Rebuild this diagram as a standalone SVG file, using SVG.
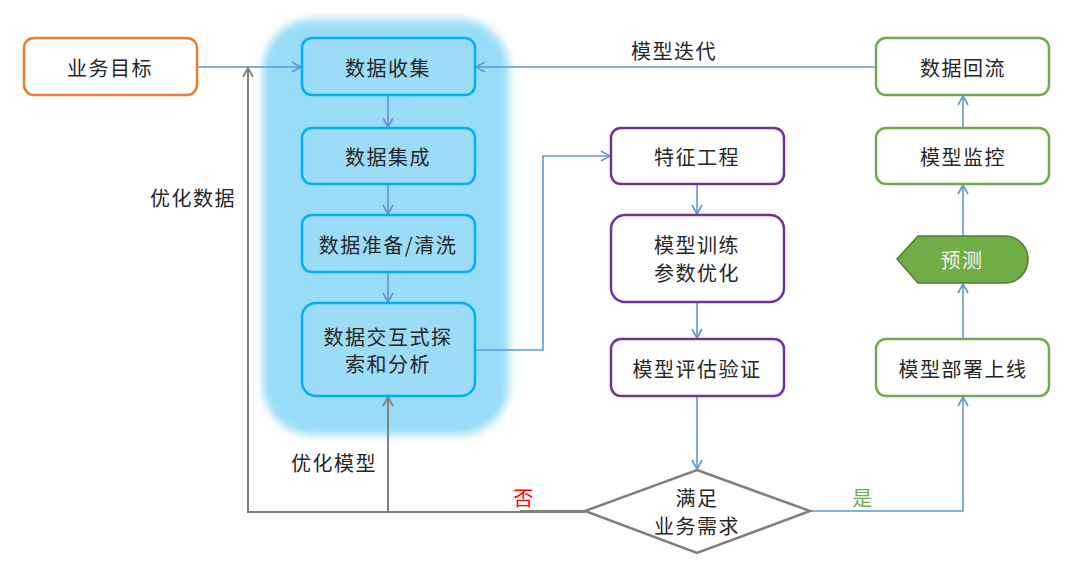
<svg xmlns="http://www.w3.org/2000/svg" width="1080" height="568" viewBox="0 0 1080 568">
<style>
text{font-family:"Noto Sans CJK SC","Liberation Sans",sans-serif;font-size:20px;fill:#262626;text-anchor:middle;dominant-baseline:central;letter-spacing:1.5px}
.blue{fill:#9CDCF7;stroke:#00B0F0;stroke-width:2.5}
.purple{fill:#fff;stroke:#7030A0;stroke-width:2.5}
.green{fill:#fff;stroke:#70AD47;stroke-width:2.5}
.orange{fill:#fff;stroke:#ED7D31;stroke-width:2.5}
.c{fill:none;stroke:#5B9BD5;stroke-width:1.6}
.ci{fill:none;stroke:#6A8FD0;stroke-width:1.6}
.g{fill:none;stroke:#7F7F7F;stroke-width:2}
</style>
<defs>
<filter id="blur" x="-10%" y="-10%" width="120%" height="120%"><feGaussianBlur stdDeviation="4"/></filter>
<marker id="ab" markerWidth="12" markerHeight="12" refX="10" refY="6" orient="auto" markerUnits="userSpaceOnUse"><path d="M1,1 L10,6 L1,11" fill="none" stroke="#5B9BD5" stroke-width="1.6"/></marker>
<marker id="ai" markerWidth="12" markerHeight="12" refX="10" refY="6" orient="auto" markerUnits="userSpaceOnUse"><path d="M1,1 L10,6 L1,11" fill="none" stroke="#6A8FD0" stroke-width="1.6"/></marker>
<marker id="ag" markerWidth="12" markerHeight="12" refX="10" refY="6" orient="auto" markerUnits="userSpaceOnUse"><path d="M1,1 L10,6 L1,11" fill="none" stroke="#7F7F7F" stroke-width="1.8"/></marker>
</defs>
<rect x="263" y="19" width="246" height="416" rx="50" fill="#99DCF8" filter="url(#blur)"/>
<g id="connectors">
<path class="c" d="M197,67 H301" marker-end="url(#ab)"/>
<path class="c" d="M876,67 H476" marker-end="url(#ab)"/>
<path class="ci" d="M388,95 V127" marker-end="url(#ai)"/>
<path class="ci" d="M388,184 V214" marker-end="url(#ai)"/>
<path class="ci" d="M388,272 V302" marker-end="url(#ai)"/>
<path class="c" d="M475,350 H543 V156 H610" marker-end="url(#ab)"/>
<path class="c" d="M697,184 V214" marker-end="url(#ab)"/>
<path class="c" d="M697,302 V338" marker-end="url(#ab)"/>
<path class="c" d="M697,396 V469" marker-end="url(#ab)"/>
<path class="c" d="M810,511 H963 V397" marker-end="url(#ab)"/>
<path class="c" d="M963,339 V284" marker-end="url(#ab)"/>
<path class="c" d="M963,236 V185" marker-end="url(#ab)"/>
<path class="c" d="M963,128 V96" marker-end="url(#ab)"/>
<path class="g" d="M585,512 H248 V68" marker-end="url(#ag)"/>
<path class="g" d="M388,512 V397" marker-end="url(#ag)"/>
<path d="M520,511.5 H585" stroke="#7F7F7F" stroke-width="3" fill="none"/>
<text x="674" y="50">模型迭代</text>
<text x="193" y="197">优化数据</text>
<text x="334" y="462">优化模型</text>
<text x="524" y="497" style="fill:#FF0000">否</text>
<text x="863" y="497" style="fill:#70AD47">是</text>
</g>
<g id="n-goal"><rect class="orange" x="24" y="38" width="173" height="57" rx="10"/><text x="110" y="67">业务目标</text></g>
<g id="n-collect"><rect class="blue" x="302" y="38" width="173" height="57" rx="10"/><text x="388" y="67">数据收集</text></g>
<g id="n-integrate"><rect class="blue" x="302" y="128" width="173" height="56" rx="10"/><text x="388" y="156">数据集成</text></g>
<g id="n-clean"><rect class="blue" x="302" y="215" width="173" height="57" rx="10"/><text x="388" y="244">数据准备/清洗</text></g>
<g id="n-explore"><rect class="blue" x="302" y="303" width="173" height="93" rx="14"/><text x="388" y="336">数据交互式探</text><text x="388" y="363">索和分析</text></g>
<g id="n-feature"><rect class="purple" x="611" y="128" width="173" height="56" rx="10"/><text x="697" y="156">特征工程</text></g>
<g id="n-train"><rect class="purple" x="611" y="215" width="173" height="87" rx="14"/><text x="697" y="244">模型训练</text><text x="697" y="272">参数优化</text></g>
<g id="n-eval"><rect class="purple" x="611" y="339" width="173" height="57" rx="10"/><text x="697" y="368">模型评估验证</text></g>
<g id="n-decision"><polygon points="697,470 810,511 697,553 585,511" fill="#fff" stroke="#7F7F7F" stroke-width="2.5"/><text x="697" y="497">满足</text><text x="697" y="525">业务需求</text></g>
<g id="n-deploy"><rect class="green" x="876" y="339" width="173" height="57" rx="10"/><text x="963" y="368">模型部署上线</text></g>
<g id="n-predict"><path d="M897,259 L918,236 H1005 A23,23.5 0 0 1 1005,283 H918 Z" fill="#70AD47" stroke="#507E32" stroke-width="1.5"/><text x="962" y="259" style="fill:#F2F2F2">预测</text></g>
<g id="n-monitor"><rect class="green" x="876" y="128" width="173" height="56" rx="10"/><text x="963" y="156">模型监控</text></g>
<g id="n-backflow"><rect class="green" x="876" y="38" width="173" height="57" rx="10"/><text x="963" y="67">数据回流</text></g>
</svg>
